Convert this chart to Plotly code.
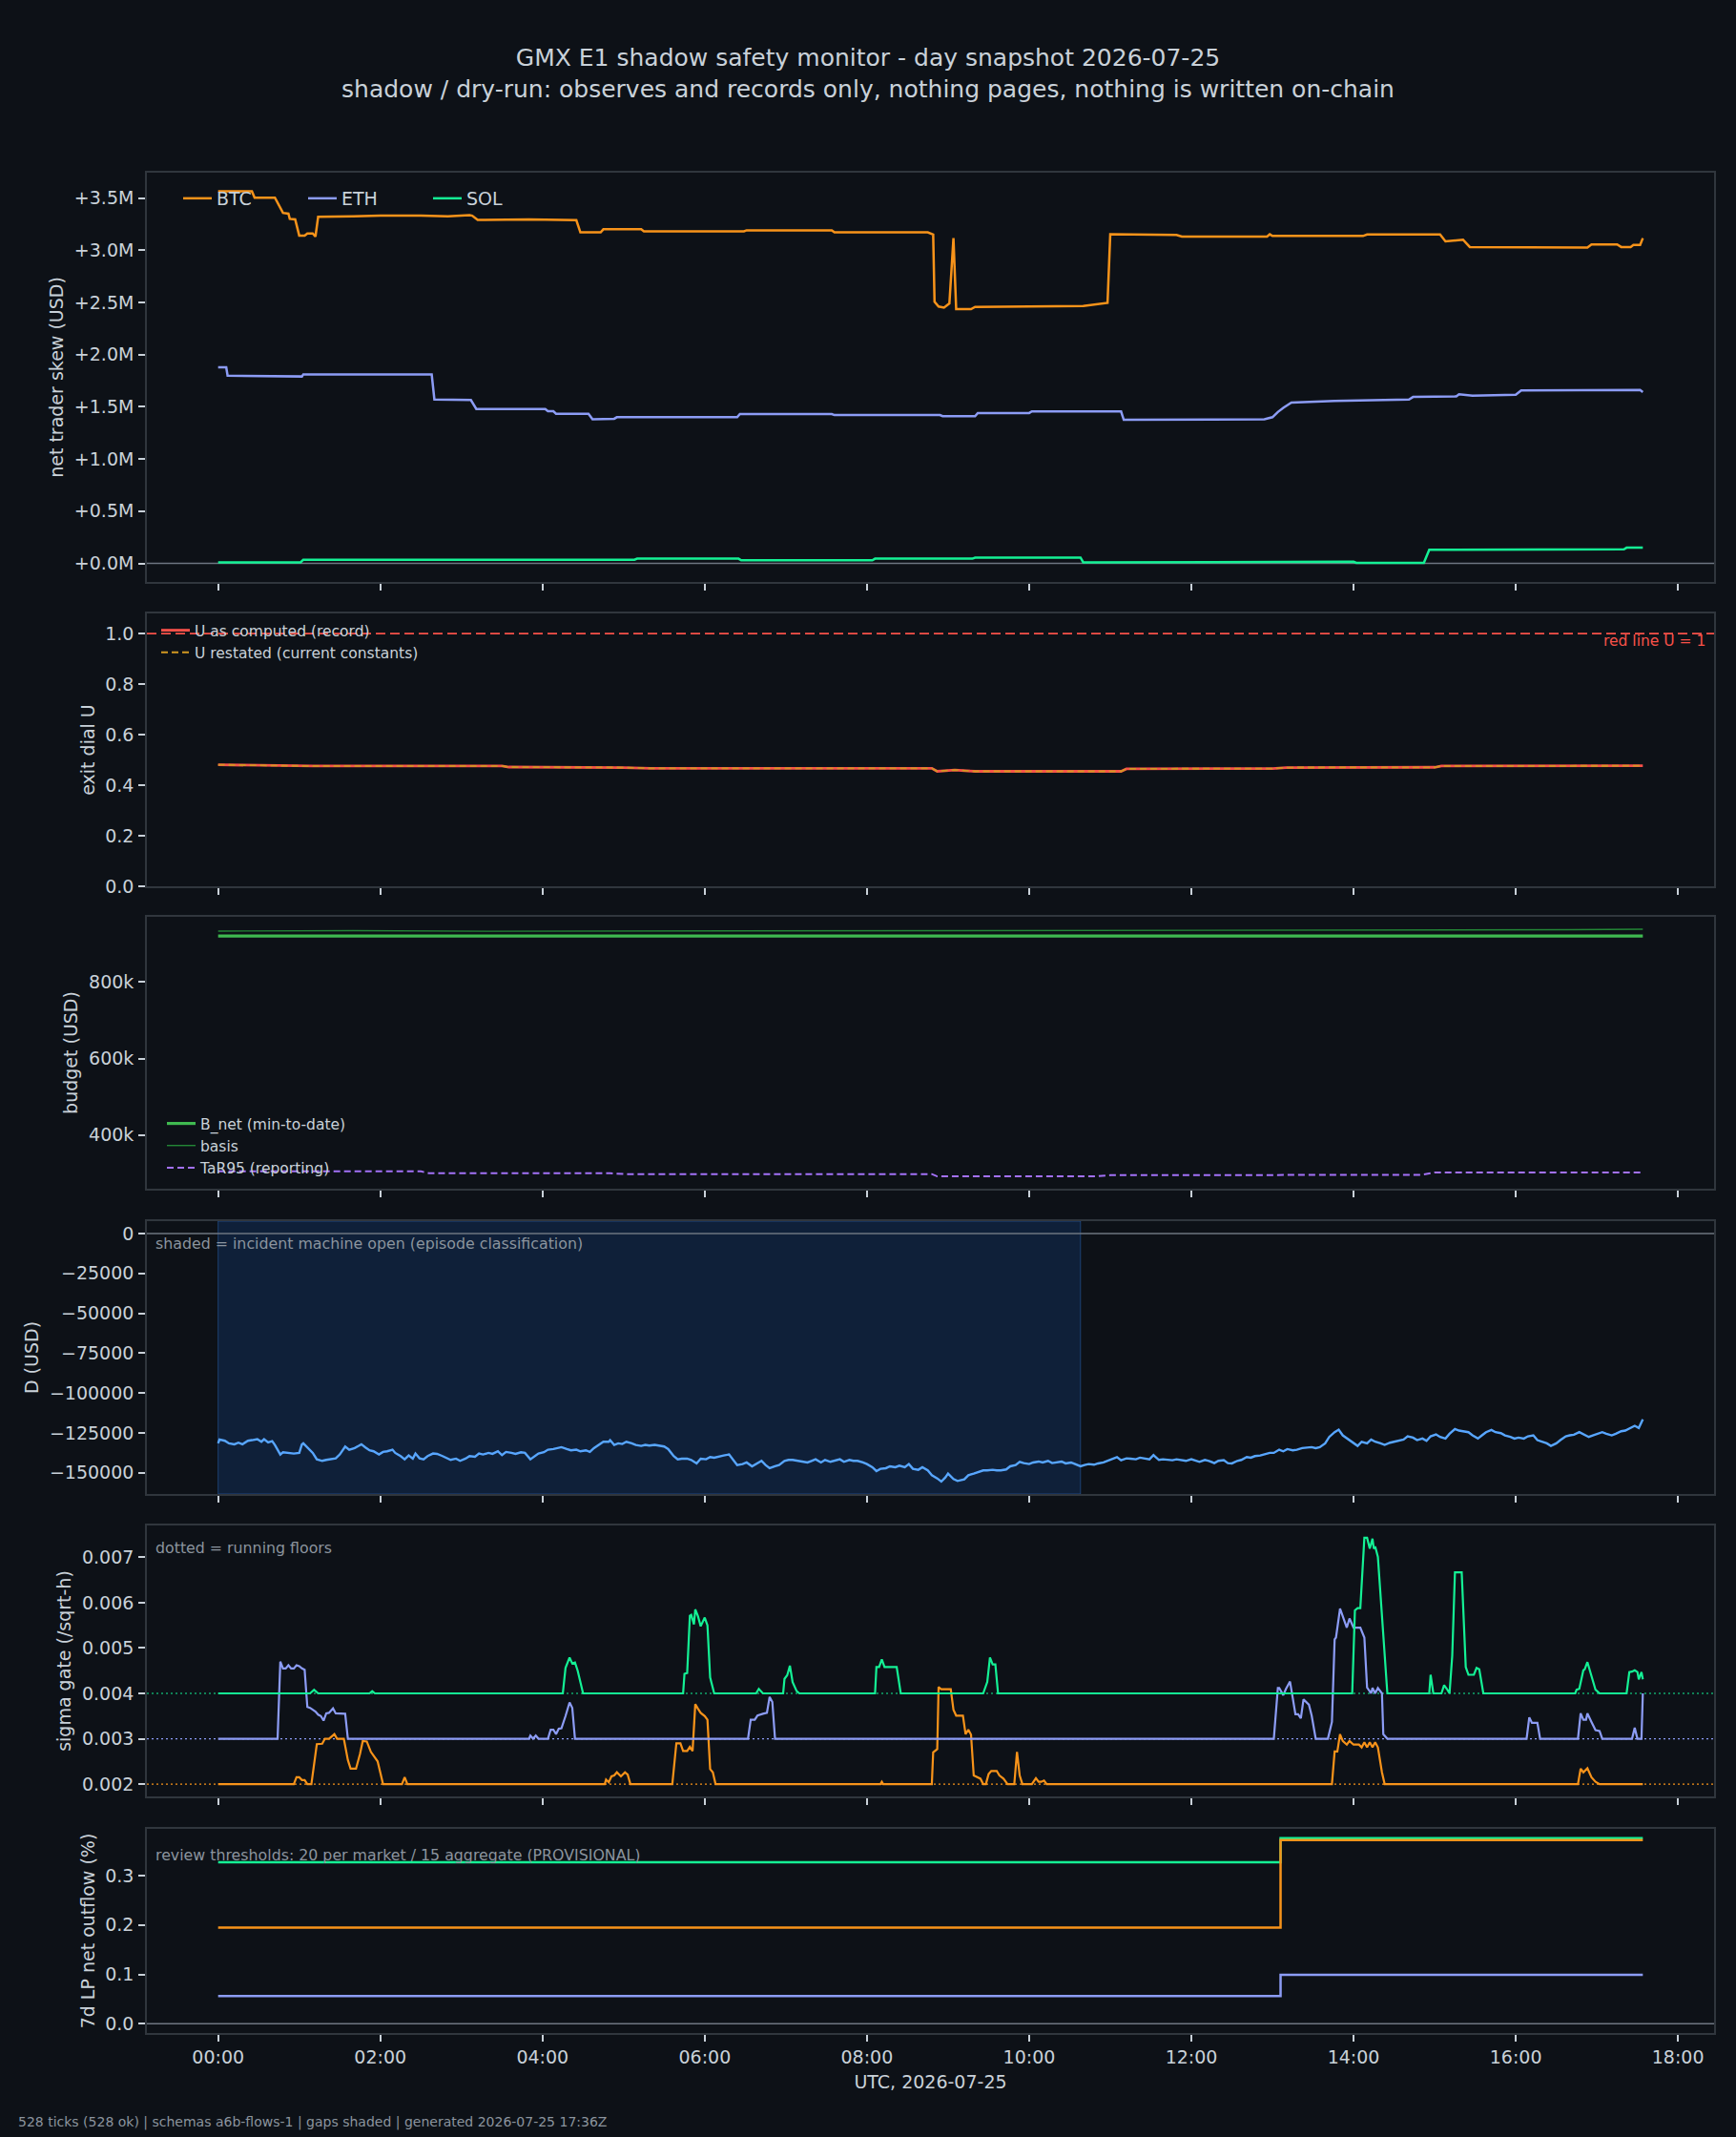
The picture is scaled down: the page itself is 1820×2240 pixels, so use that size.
import datetime as dt
import plotly.graph_objects as go

# ============================ DATA ============================
DAY = dt.datetime(2026, 7, 25)

# ---- panel 1: net trader skew (million USD), time in minutes after 00:00 UTC
btc_min = [0, 25, 27, 42, 48, 52, 53, 57, 60, 64,
           66, 70, 72, 74, 100, 120, 150, 170, 186, 188,
           192, 230, 265, 268, 283, 285, 313, 315, 389, 391,
           454, 456, 525, 529, 530, 533, 537, 540, 541, 544,
           546, 557, 560, 600, 634, 640, 658, 660, 709, 713,
           776, 778, 780, 847, 850, 904, 908, 915, 921, 926,
           980, 1013, 1016, 1035, 1038, 1045, 1047, 1052, 1054]
btc_skew_m = [3.564, 3.564, 3.503, 3.503, 3.357, 3.35, 3.30, 3.295, 3.14, 3.14,
              3.16, 3.16, 3.13, 3.32, 3.325, 3.33, 3.33, 3.325, 3.335, 3.33,
              3.29, 3.295, 3.287, 3.17, 3.17, 3.20, 3.20, 3.18, 3.18, 3.19,
              3.19, 3.17, 3.17, 3.15, 2.505, 2.46, 2.45, 2.48, 2.49, 3.115,
              2.435, 2.435, 2.456, 2.46, 2.468, 2.465, 2.496, 3.152, 3.146, 3.13,
              3.13, 3.152, 3.136, 3.136, 3.15, 3.15, 3.085, 3.09, 3.10, 3.03,
              3.028, 3.024, 3.054, 3.054, 3.03, 3.03, 3.05, 3.05, 3.115]
eth_min = [0, 6, 7, 62, 63, 158, 160, 187, 191, 242,
           244, 248, 250, 274, 277, 293, 295, 384, 386, 454,
           456, 534, 536, 560, 562, 600, 602, 668, 670, 774,
           780, 784, 788, 794, 826, 856, 881, 884, 916, 918,
           928, 960, 964, 1052, 1054]
eth_skew_m = [1.877, 1.877, 1.798, 1.79, 1.81, 1.81, 1.57, 1.565, 1.479, 1.478,
              1.457, 1.457, 1.433, 1.433, 1.38, 1.385, 1.40, 1.40, 1.43, 1.43,
              1.42, 1.42, 1.41, 1.41, 1.44, 1.44, 1.455, 1.455, 1.375, 1.38,
              1.40, 1.45, 1.49, 1.54, 1.555, 1.56, 1.57, 1.594, 1.60, 1.62,
              1.606, 1.615, 1.657, 1.66, 1.64]
sol_min = [0, 61, 63, 245, 247, 308, 310, 385, 387, 484, 486, 558,
           560, 638, 640, 724, 726, 840, 842, 892, 896, 1040, 1042, 1054]
sol_skew_m = [0.01, 0.01, 0.035, 0.04, 0.035, 0.035, 0.045, 0.045, 0.03, 0.03, 0.045, 0.045,
              0.055, 0.055, 0.01, 0.01, 0.015, 0.015, 0.005, 0.005, 0.13, 0.135, 0.15, 0.15]
skew_tickvals = [0.0, 0.5, 1.0, 1.5, 2.0, 2.5, 3.0, 3.5]
skew_ticktext = ["+0.0M", "+0.5M", "+1.0M", "+1.5M", "+2.0M", "+2.5M", "+3.0M", "+3.5M"]

# ---- panel 2: exit dial U
u_min = [0, 60, 70, 210, 215, 300, 320, 528, 532, 545, 560, 668, 672, 780, 790, 900, 905, 1054]
u_computed = [0.481, 0.478, 0.476, 0.476, 0.472, 0.47, 0.467, 0.467, 0.455, 0.46,
              0.455, 0.455, 0.465, 0.466, 0.47, 0.471, 0.476, 0.477]
u_restated = [0.481, 0.478, 0.476, 0.476, 0.472, 0.47, 0.467, 0.467, 0.455, 0.46,
              0.455, 0.455, 0.465, 0.466, 0.47, 0.471, 0.476, 0.477]
u_red_line = 1.0
u_range = [0.0, 1.08]
u_tickvals = [0.0, 0.2, 0.4, 0.6, 0.8, 1.0]
u_ticktext = ["0.0", "0.2", "0.4", "0.6", "0.8", "1.0"]

# ---- panel 3: budget (USD)
bnet_min = [0, 1054]
b_net = [920000, 920000]
basis_min = [0, 100, 200, 300, 400, 500, 600, 700, 800, 900, 1000, 1054]
basis = [933000, 934000, 932500, 933000, 932000, 933500, 933000, 934000, 935000, 935500, 936500, 938000]
tar_min = [0, 150, 156, 290, 300, 528, 532, 650, 660, 780, 890, 900, 1054]
tar95 = [305000, 305000, 300000, 300000, 298000, 298000, 292000, 292000, 295000, 296000, 296000, 302000, 302000]
budget_tickvals = [400000, 600000, 800000]
budget_ticktext = ["400k", "600k", "800k"]

# ---- panel 4: D (thousand USD); incident machine open interval (minutes)
d_series = [
    (0, -131.6), (1, -129.2), (5, -130.0), (8, -131.6), (12, -132.2), (15, -131.2), (18, -132.2), (22, -130.0), (25, -129.6), (29, -129.0),
    (32, -130.6), (34, -129.0), (37, -131.0), (40, -130.2), (42, -132.6), (46, -138.6), (48, -137.2), (53, -137.6), (56, -138.0), (60, -137.6),
    (62, -132.2), (63, -131.6), (66, -134.0), (70, -137.6), (73, -141.6), (77, -142.6), (80, -142.0), (83, -141.6), (87, -141.0), (90, -138.6),
    (94, -133.6), (97, -135.6), (101, -134.6), (104, -133.2), (106, -132.2), (109, -134.2), (112, -136.0), (115, -136.6), (119, -138.6), (122, -137.0),
    (125, -136.6), (129, -135.6), (131, -137.6), (135, -139.6), (138, -141.6), (141, -139.2), (144, -141.2), (146, -138.0), (149, -141.0), (152, -141.6),
    (155, -139.6), (159, -138.0), (162, -138.2), (166, -139.6), (169, -140.6), (172, -142.0), (176, -141.2), (179, -142.6), (183, -141.2), (186, -139.6),
    (190, -140.0), (193, -138.0), (196, -138.6), (200, -137.6), (203, -138.2), (207, -136.6), (210, -139.0), (213, -137.0), (217, -137.6), (220, -138.2),
    (224, -137.2), (227, -137.6), (231, -141.6), (234, -139.6), (237, -138.0), (241, -137.2), (244, -135.6), (248, -135.2), (251, -134.6), (254, -134.0),
    (258, -135.2), (261, -136.0), (265, -135.6), (268, -136.6), (272, -136.0), (275, -137.0), (278, -134.6), (282, -132.6), (285, -130.6), (289, -130.6),
    (290, -129.6), (293, -132.6), (296, -131.6), (299, -132.0), (302, -130.6), (306, -131.6), (309, -132.6), (313, -133.2), (316, -132.6), (319, -133.0),
    (323, -132.6), (326, -133.0), (330, -133.6), (333, -135.2), (337, -139.6), (340, -141.6), (343, -141.2), (347, -141.2), (350, -142.0), (354, -144.2),
    (357, -141.2), (361, -141.6), (364, -140.2), (367, -140.6), (371, -139.6), (374, -139.2), (378, -138.6), (381, -141.6), (384, -145.2), (388, -144.6),
    (391, -143.6), (395, -146.0), (398, -144.6), (402, -142.6), (405, -145.2), (408, -147.2), (412, -146.0), (415, -145.2), (419, -142.6), (422, -142.0),
    (425, -142.0), (429, -142.6), (432, -142.6), (436, -143.6), (439, -142.6), (442, -141.6), (446, -143.6), (449, -142.0), (453, -143.2), (456, -142.6),
    (460, -141.6), (463, -143.2), (467, -142.0), (470, -142.6), (473, -142.6), (477, -143.6), (480, -144.6), (484, -146.6), (487, -149.0), (490, -147.6),
    (494, -147.2), (497, -146.0), (501, -146.6), (504, -145.6), (508, -146.6), (511, -144.6), (514, -147.6), (518, -148.2), (521, -146.6), (525, -148.6),
    (528, -151.6), (532, -153.6), (535, -155.6), (538, -153.0), (540, -150.6), (544, -154.0), (547, -155.2), (552, -154.2), (555, -151.6), (559, -150.6),
    (562, -149.6), (566, -148.6), (569, -148.6), (573, -148.2), (576, -148.6), (579, -148.6), (583, -148.0), (586, -146.0), (590, -145.2), (593, -143.2),
    (596, -144.0), (600, -144.6), (603, -143.6), (607, -143.0), (610, -143.6), (614, -142.6), (617, -144.0), (620, -143.6), (624, -143.0), (627, -144.2),
    (631, -143.6), (634, -144.6), (638, -146.0), (641, -145.2), (644, -144.6), (648, -145.0), (651, -144.2), (655, -143.6), (658, -142.6), (661, -141.6),
    (665, -140.2), (668, -142.2), (672, -141.0), (675, -141.2), (679, -141.6), (682, -140.6), (685, -141.2), (689, -141.6), (692, -139.0), (696, -142.0),
    (699, -141.6), (703, -142.2), (706, -142.2), (709, -141.6), (713, -142.0), (716, -142.6), (720, -141.6), (723, -142.6), (726, -143.2), (730, -142.0),
    (733, -142.6), (737, -144.0), (740, -142.6), (744, -142.2), (747, -144.0), (750, -144.2), (754, -142.6), (757, -142.0), (761, -140.2), (764, -140.6),
    (767, -139.6), (771, -139.2), (774, -138.6), (778, -137.6), (781, -137.6), (785, -135.6), (788, -136.6), (791, -135.2), (795, -136.0), (798, -135.6),
    (802, -134.6), (805, -134.2), (809, -134.0), (812, -134.6), (815, -134.0), (819, -131.6), (822, -127.6), (826, -124.6), (829, -123.0), (832, -126.6),
    (836, -129.2), (839, -130.6), (843, -133.2), (846, -130.6), (850, -131.6), (853, -129.2), (856, -130.6), (860, -131.6), (863, -132.6), (867, -131.2),
    (870, -130.6), (874, -129.6), (877, -129.2), (880, -127.2), (884, -128.0), (887, -129.6), (891, -128.6), (894, -130.0), (897, -127.2), (901, -126.0),
    (904, -127.6), (908, -128.6), (911, -125.6), (915, -122.6), (918, -123.6), (921, -124.0), (925, -124.6), (928, -126.6), (932, -128.6), (935, -126.6),
    (938, -124.6), (942, -123.2), (945, -124.6), (949, -125.2), (952, -126.6), (956, -127.6), (959, -128.6), (962, -128.0), (966, -128.6), (969, -127.2),
    (973, -126.6), (976, -129.6), (980, -130.6), (983, -131.6), (986, -133.2), (990, -131.6), (993, -129.6), (997, -127.2), (1000, -126.6), (1003, -126.2),
    (1007, -124.6), (1010, -126.0), (1014, -127.6), (1017, -126.6), (1021, -125.2), (1024, -124.6), (1027, -125.6), (1031, -126.6), (1034, -125.6), (1038, -124.0),
    (1041, -123.6), (1045, -121.6), (1048, -120.6), (1051, -122.0), (1054, -116.6),
]
incident_open_min = (0, 638)
d_tickvals = [0, -25000, -50000, -75000, -100000, -125000, -150000]
d_ticktext = ["0", "\u221225000", "\u221250000", "\u221275000", "\u2212100000", "\u2212125000", "\u2212150000"]

# ---- panel 5: sigma gate (/sqrt-h)
sol_sigma = [
    (0, .004), (68, .004), (71, .00408), (74, .004), (112, .004), (114, .00405), (116, .004), (255, .004), (257, .00456), (260, .00479),
    (262, .00466), (264, .00468), (266, .0045), (267, .00438), (270, .004), (344, .004), (345, .00443), (347, .00445), (349, .00571), (350, .00573),
    (352, .00552), (353, .00585), (355, .0057), (357, .00548), (360, .00567), (362, .0055), (364, .00435), (365, .00423), (367, .004), (398, .004),
    (400, .0041), (403, .004), (418, .004), (419, .00432), (421, .0044), (423, .00461), (425, .00425), (428, .00405), (430, .004), (486, .004),
    (487, .00458), (489, .00458), (491, .00475), (493, .00458), (502, .00458), (505, .004), (566, .004), (569, .00425), (571, .00479), (573, .00464),
    (575, .00464), (577, .004), (839, .004), (841, .00583), (843, .00588), (845, .00588), (848, .00743), (850, .00743), (852, .00719), (854, .00741),
    (855, .00719), (856, .00724), (858, .00701), (865, .004), (896, .004), (897, .00441), (899, .004), (905, .004), (907, .00418), (909, .0041),
    (911, .004), (913, .00483), (915, .00667), (920, .00667), (922, .0050), (923, .00458), (925, .00441), (929, .00441), (931, .00456), (933, .00453),
    (936, .004), (1004, .004), (1005, .00408), (1007, .0041), (1010, .00451), (1011, .00453), (1013, .00469), (1015, .00448), (1017, .00424), (1019, .00408),
    (1022, .004), (1042, .004), (1044, .00447), (1046, .00448), (1048, .00451), (1050, .00447), (1051, .00431), (1053, .00447), (1054, .00431),
]
eth_sigma = [
    (0, .003), (44, .003), (46, .0047), (48, .00455), (50, .00455), (52, .00462), (54, .00455), (56, .00455), (58, .00462), (60, .0046),
    (62, .00455), (64, .00452), (66, .0037), (68, .00368), (70, .00364), (72, .0036), (74, .00353), (76, .0035), (78, .0034), (80, .00356),
    (82, .00357), (85, .00367), (87, .00356), (91, .00356), (94, .00355), (96, .003), (230, .003), (231, .00307), (233, .003), (235, .00307),
    (237, .003), (244, .003), (246, .0032), (248, .0032), (250, .0031), (252, .00322), (254, .00323), (257, .0035), (259, .00373), (260, .0038),
    (262, .00368), (264, .003), (392, .003), (394, .00342), (397, .00342), (399, .00351), (403, .00355), (406, .00357), (408, .00392), (410, .00381),
    (412, .003), (781, .003), (784, .00412), (785, .00412), (788, .00396), (790, .0041), (793, .00426), (796, .00368), (797, .00354), (799, .00354),
    (801, .00345), (803, .00387), (807, .00375), (809, .00351), (812, .003), (821, .003), (824, .00337), (826, .00519), (827, .00523), (830, .00587),
    (833, .00563), (835, .00545), (837, .00565), (840, .00545), (845, .00545), (848, .00523), (850, .00413), (853, .004), (854, .00412), (856, .004),
    (858, .00412), (861, .004), (862, .0031), (865, .003), (968, .003), (970, .00347), (972, .00335), (976, .00335), (978, .003), (1006, .003),
    (1008, .00356), (1010, .00342), (1012, .00342), (1013, .00356), (1016, .00337), (1019, .00319), (1022, .00317), (1024, .003), (1046, .003), (1048, .00324),
    (1050, .003), (1053, .003), (1054, .004),
]
btc_sigma = [
    (0, .002), (56, .002), (58, .00215), (60, .00215), (62, .00209), (64, .00209), (66, .002), (69, .002), (73, .00288), (77, .00289),
    (79, .003), (82, .003), (86, .0031), (88, .003), (93, .003), (96, .00253), (98, .00234), (102, .00234), (105, .00267), (107, .00295),
    (110, .00294), (113, .00271), (118, .0025), (122, .002), (136, .002), (138, .00215), (140, .002), (286, .002), (287, .0021), (289, .00204),
    (291, .00217), (293, .00219), (295, .00226), (298, .00217), (301, .00226), (303, .00221), (305, .002), (336, .002), (338, .0026), (339, .0029),
    (342, .0029), (344, .00273), (347, .00273), (349, .00282), (351, .00273), (353, .00376), (355, .00366), (357, .00357), (360, .0035), (362, .00342),
    (364, .00233), (366, .00226), (368, .002), (490, .002), (491, .00205), (492, .002), (528, .002), (529, .0027), (532, .00277), (533, .00414),
    (535, .00409), (542, .00409), (544, .00364), (546, .00351), (551, .00351), (553, .0031), (555, .0032), (557, .00309), (559, .00219), (562, .00214),
    (564, .00212), (566, .002), (568, .002), (570, .00222), (572, .00229), (576, .00229), (578, .00219), (581, .00212), (584, .002), (589, .002),
    (591, .00271), (593, .00219), (595, .002), (602, .002), (605, .00213), (607, .00205), (609, .00205), (611, .00208), (613, .002), (824, .002),
    (826, .00272), (828, .00272), (830, .0031), (832, .00295), (835, .00287), (837, .00295), (840, .00287), (844, .00287), (846, .00281), (848, .00292),
    (850, .00281), (852, .00292), (854, .00281), (856, .00292), (858, .00281), (861, .00226), (863, .002), (1006, .002), (1008, .00234), (1010, .00226),
    (1013, .00235), (1016, .00215), (1019, .00205), (1022, .002), (1054, .002),
]
sigma_floors = [0.002, 0.003, 0.004]          # BTC, ETH, SOL running floors
sigma_tickvals = [0.002, 0.003, 0.004, 0.005, 0.006, 0.007]
sigma_ticktext = ["0.002", "0.003", "0.004", "0.005", "0.006", "0.007"]

# ---- panel 6: 7d LP net outflow (%)
lp_min = [0, 786, 1054]
lp_btc = [0.195, 0.372, 0.372]
lp_eth = [0.056, 0.099, 0.099]
lp_sol = [0.327, 0.376, 0.376]
lp_tickvals = [0.0, 0.1, 0.2, 0.3]
lp_ticktext = ["0.0", "0.1", "0.2", "0.3"]

x_tick_step_h = 2

# ============================ STYLE ============================
W, H = 1820, 2240
FONT = "DejaVu Sans"
BG = "#0d1117"
SPINE = "#30363d"
TXT = "#c9d1d9"
MUTED = "#8b949e"
ZERO = "#6e7681"
C_BTC, C_ETH, C_SOL = "#f7931a", "#8c9cf5", "#14f195"
C_D = "#58a6ff"
C_RED, C_GOLD = "#f85149", "#d29922"
C_BNET, C_BASIS, C_TAR = "#3fb950", "#238636", "#a371f7"

L_PX, R_PX = 154, 1797
PANELS = [(181, 610), (643, 929), (961, 1246), (1280, 1566), (1599, 1883), (1917, 2131)]


def ts(mins):
    return [DAY + dt.timedelta(minutes=m) for m in mins]


def auto_range(values, pad=0.05):
    lo, hi = min(values), max(values)
    span = hi - lo
    return [lo - pad * span, hi + pad * span]


def split(pairs):
    return [p[0] for p in pairs], [p[1] for p in pairs]


fig = go.Figure()


def add(row, mins, vals, color, width=2.5, dash=None, name=None, legend=None, shape="linear"):
    sfx = "" if row == 1 else str(row)
    fig.add_trace(go.Scatter(
        x=ts(mins), y=vals, mode="lines", name=name,
        line=dict(color=color, width=width, dash=dash, shape=shape),
        showlegend=legend is not None, legend=legend or "legend",
        xaxis="x" + sfx, yaxis="y" + sfx, hoverinfo="skip"))


# panel 1
add(1, btc_min, btc_skew_m, C_BTC, name="BTC", legend="legend")
add(1, eth_min, eth_skew_m, C_ETH, name="ETH", legend="legend")
add(1, sol_min, sol_skew_m, C_SOL, name="SOL", legend="legend")
# panel 2
add(2, u_min, u_computed, C_RED, width=2.8, name="U as computed (record)", legend="legend2")
add(2, u_min, u_restated, C_GOLD, width=1.8, dash="7px,4px", name="U restated (current constants)", legend="legend2")
# panel 3
add(3, bnet_min, b_net, C_BNET, width=3.2, name="B_net (min-to-date)", legend="legend3")
add(3, basis_min, basis, C_BASIS, width=1.4, name="basis", legend="legend3")
add(3, tar_min, tar95, C_TAR, width=2.0, dash="7px,4px", name="TaR95 (reporting)", legend="legend3")
# panel 4
d_min, d_k = split(d_series)
d_usd = [v * 1000 for v in d_k]
add(4, d_min, d_usd, C_D, width=2.4)
# panel 5
for pairs, col in ((btc_sigma, C_BTC), (eth_sigma, C_ETH), (sol_sigma, C_SOL)):
    m, v = split(pairs)
    add(5, m, v, col, width=2.2)
# panel 6
add(6, lp_min, lp_sol, C_SOL, width=2.5, shape="hv")
add(6, lp_min, lp_btc, C_BTC, width=2.5, shape="hv")
add(6, lp_min, lp_eth, C_ETH, width=2.5, shape="hv")

# ------------------ axes ------------------
all_min = btc_min + eth_min + sol_min + d_min
xr = auto_range(all_min)
x_range = [DAY + dt.timedelta(minutes=xr[0]), DAY + dt.timedelta(minutes=xr[1])]

y_ranges = [
    auto_range(btc_skew_m + eth_skew_m + sol_skew_m + [0.0]),
    u_range,
    auto_range(b_net + basis + tar95),
    auto_range(d_usd + [0.0]),
    auto_range([v for p in (btc_sigma, eth_sigma, sol_sigma) for _, v in p]),
    auto_range(lp_btc + lp_eth + lp_sol + [0.0]),
]
y_ticks = [(skew_tickvals, skew_ticktext), (u_tickvals, u_ticktext), (budget_tickvals, budget_ticktext),
           (d_tickvals, d_ticktext), (sigma_tickvals, sigma_ticktext), (lp_tickvals, lp_ticktext)]
y_titles = ["net trader skew (USD)", "exit dial U", "budget (USD)", "D (USD)",
            "sigma gate (/sqrt-h)", "7d LP net outflow (%)"]

layout = dict(
    width=W, height=H, template="none",
    paper_bgcolor=BG, plot_bgcolor=BG,
    margin=dict(l=0, r=0, t=0, b=0),
    font=dict(family=FONT, color=TXT, size=19),
    showlegend=True,
    title=dict(text="GMX E1 shadow safety monitor - day snapshot 2026-07-25<br>"
                    "shadow / dry-run: observes and records only, nothing pages, nothing is written on-chain",
               x=0.5, xanchor="center", y=1 - 69 / H, yanchor="top",
               font=dict(family=FONT, size=25, color=TXT)),
)

for i, (top, bot) in enumerate(PANELS, start=1):
    sfx = "" if i == 1 else str(i)
    xa = dict(domain=[L_PX / W, R_PX / W], anchor="y" + sfx, type="date", range=x_range,
              showline=True, mirror=True, linecolor=SPINE, linewidth=1.6,
              ticks="outside", ticklen=7, tickwidth=1.5, tickcolor=TXT,
              tick0=DAY, dtick=x_tick_step_h * 3600 * 1000, tickformat="%H:%M",
              showgrid=False, zeroline=False, showticklabels=(i == 6),
              tickfont=dict(size=19, color=TXT), ticklabelstandoff=0, automargin=False)
    if i > 1:
        xa["matches"] = "x"
    if i == 6:
        xa["title"] = dict(text="UTC, 2026-07-25", font=dict(size=19, color=TXT), standoff=10)
    tv, tt = y_ticks[i - 1]
    ya = dict(domain=[1 - bot / H, 1 - top / H], anchor="x" + sfx, range=y_ranges[i - 1],
              showline=True, mirror=True, linecolor=SPINE, linewidth=1.6,
              ticks="outside", ticklen=7, tickwidth=1.5, tickcolor=TXT,
              tickmode="array", tickvals=tv, ticktext=tt,
              showgrid=False, zeroline=False, automargin=False,
              tickfont=dict(size=19, color=TXT), ticklabelstandoff=1,
              title=dict(text=y_titles[i - 1], font=dict(size=19, color=TXT), standoff=6))
    layout["xaxis" + sfx] = xa
    layout["yaxis" + sfx] = ya

layout["legend"] = dict(orientation="h", x=187 / W, y=1 - 189 / H, xanchor="left", yanchor="top",
                        bgcolor="rgba(0,0,0,0)", font=dict(size=19, color=TXT),
                        entrywidth=86, entrywidthmode="pixels", traceorder="normal")
layout["legend2"] = dict(orientation="v", x=164 / W, y=1 - 644 / H, xanchor="left", yanchor="top",
                         bgcolor="rgba(0,0,0,0)", font=dict(size=15.5, color=TXT), traceorder="normal")
layout["legend3"] = dict(orientation="v", x=170 / W, y=1 - 1241 / H, xanchor="left", yanchor="bottom",
                         bgcolor="rgba(0,0,0,0)", font=dict(size=15.5, color=TXT), traceorder="normal")

shapes = [
    dict(type="line", xref="x domain", x0=0, x1=1, yref="y", y0=0, y1=0,
         line=dict(color=ZERO, width=1.3), layer="below"),
    dict(type="line", xref="x2 domain", x0=0, x1=1, yref="y2", y0=u_red_line, y1=u_red_line,
         line=dict(color=C_RED, width=1.8, dash="10px,5px"), layer="below"),
    dict(type="rect", xref="x4", yref="y4 domain",
         x0=DAY + dt.timedelta(minutes=incident_open_min[0]),
         x1=DAY + dt.timedelta(minutes=incident_open_min[1]), y0=0, y1=1,
         fillcolor="rgba(31,111,235,0.16)", line=dict(color="rgba(56,139,253,0.35)", width=1), layer="below"),
    dict(type="line", xref="x4 domain", x0=0, x1=1, yref="y4", y0=0, y1=0,
         line=dict(color=ZERO, width=1.3), layer="below"),
    dict(type="line", xref="x6 domain", x0=0, x1=1, yref="y6", y0=0, y1=0,
         line=dict(color=ZERO, width=1.3), layer="below"),
]
for fv, col in zip(sigma_floors, (C_BTC, C_ETH, C_SOL)):
    shapes.append(dict(type="line", xref="x5 domain", x0=0, x1=1, yref="y5", y0=fv, y1=fv,
                       line=dict(color=col, width=1.2, dash="2px,3px"), layer="below"))
layout["shapes"] = shapes

layout["annotations"] = [
    dict(text="red line U = 1", xref="x2 domain", x=0.996, xanchor="right", yref="y2", y=u_red_line,
         yanchor="top", yshift=3, showarrow=False, font=dict(size=15.5, color=C_RED)),
    dict(text="shaded = incident machine open (episode classification)", xref="x4 domain", x=0.004,
         xanchor="left", yref="y4 domain", y=1, yanchor="top", yshift=-12, showarrow=False,
         font=dict(size=15.8, color=MUTED)),
    dict(text="dotted = running floors", xref="x5 domain", x=0.004, xanchor="left", yref="y5 domain",
         y=1, yanchor="top", yshift=-12, showarrow=False, font=dict(size=15.8, color=MUTED)),
    dict(text="review thresholds: 20 per market / 15 aggregate (PROVISIONAL)", xref="x6 domain", x=0.004,
         xanchor="left", yref="y6 domain", y=1, yanchor="top", yshift=-16, showarrow=False,
         font=dict(size=15.8, color=MUTED)),
    dict(text="528 ticks (528 ok) | schemas a6b-flows-1 | gaps shaded | generated 2026-07-25 17:36Z",
         xref="paper", x=17 / W, xanchor="left", yref="paper", y=1 - 2224 / H, yanchor="middle",
         showarrow=False, font=dict(size=14, color=MUTED)),
]

fig.update_layout(**layout)
fig.write_html("out.html")
